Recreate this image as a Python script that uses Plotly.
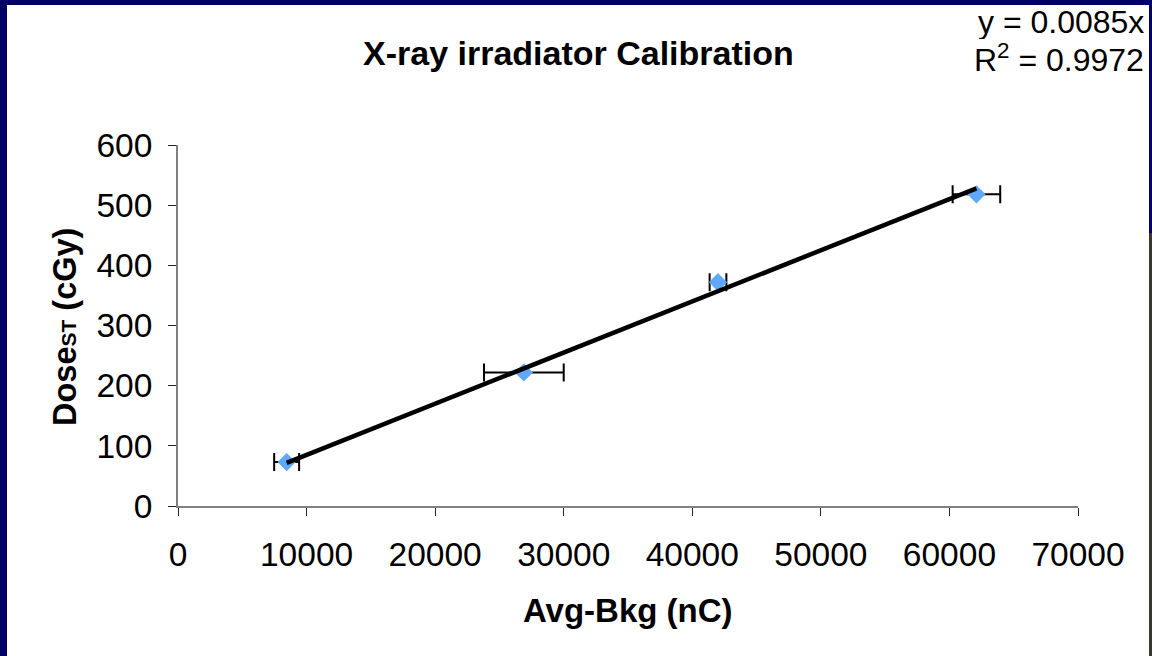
import plotly.graph_objects as go

# ---- data ----
avg_bkg_nC = [8450, 26900, 42000, 62100]
dose_cGy = [73, 222, 372, 518]
x_err_nC = [970, 3100, 650, 1850]
slope = 0.0085
eq_text = "y = 0.0085x"
r2_text = "R<sup>2</sup> = 0.9972"
x_ticks = [0, 10000, 20000, 30000, 40000, 50000, 60000, 70000]
y_ticks = [0, 100, 200, 300, 400, 500, 600]

W, H = 1152, 656
L, R, T, B = 178, 74, 145, 150
PW, PH = W - L - R, H - T - B


def px(xp):
    return (xp - L) / PW


def py(yp):
    return (H - B - yp) / PH


FONT = "Arial, 'Liberation Sans', sans-serif"
NAVY = "#000066"

fit_x = [min(avg_bkg_nC), max(avg_bkg_nC)]
fit_y = [slope * v for v in fit_x]

fig = go.Figure()
fig.add_trace(go.Scatter(
    x=avg_bkg_nC, y=dose_cGy, mode="markers",
    marker=dict(symbol="diamond", size=14, color="#5fa8ff"),
    error_x=dict(type="data", array=x_err_nC, visible=True,
                 color="black", thickness=2, width=9),
    showlegend=False, hoverinfo="x+y",
))
fig.add_trace(go.Scatter(
    x=fit_x, y=fit_y, mode="lines",
    line=dict(color="black", width=4.5),
    showlegend=False, hoverinfo="skip",
))

shapes = [
    dict(type="rect", xref="paper", yref="paper", layer="below",
         x0=px(7), x1=px(1149), y0=py(5), y1=py(H + 20),
         fillcolor="white", line=dict(width=0)),
    dict(type="rect", xref="paper", yref="paper", layer="below",
         x0=px(1149), x1=px(W + 5), y0=py(233), y1=py(H + 20),
         fillcolor="#3a3530", line=dict(width=0)),
]

annotations = [
    dict(text="<b>X-ray irradiator Calibration</b>", x=px(578), y=py(53),
         xref="paper", yref="paper", xanchor="center", yanchor="middle",
         showarrow=False, font=dict(family=FONT, size=34, color="black")),
    dict(text=eq_text, x=px(1146), y=py(22), xref="paper", yref="paper",
         xanchor="right", yanchor="middle", showarrow=False, height=35,
         valign="middle",
         font=dict(family=FONT, size=32, color="black")),
    dict(text=r2_text, x=px(1146), y=py(58), xref="paper", yref="paper",
         xanchor="right", yanchor="middle", showarrow=False, height=36,
         valign="middle",
         font=dict(family=FONT, size=32, color="black")),
    dict(text="<b>Avg-Bkg (nC)</b>", x=px(628), y=py(610), xref="paper",
         yref="paper", xanchor="center", yanchor="middle", showarrow=False,
         font=dict(family=FONT, size=33, color="black")),
    dict(text="<b>Dose<span style='font-size:21px'>ST</span> (cGy)</b>",
         x=px(65), y=py(327), xref="paper", yref="paper",
         xanchor="center", yanchor="middle", textangle=-90, showarrow=False,
         font=dict(family=FONT, size=32.5, color="black")),
]

fig.update_layout(
    width=W, height=H,
    margin=dict(l=L, r=R, t=T, b=B, autoexpand=False),
    paper_bgcolor=NAVY, plot_bgcolor="white",
    shapes=shapes, annotations=annotations,
    font=dict(family=FONT, size=33, color="black"),
)
fig.update_xaxes(
    range=[0, 70000], tickvals=x_ticks, ticktext=[str(v) for v in x_ticks],
    showgrid=False, zeroline=False, showline=True, linecolor="#808080",
    linewidth=2, ticks="outside", ticklen=8, tickwidth=1, tickcolor="#222",
    tickfont=dict(family=FONT, size=33.5, color="black"), ticklabelstandoff=10,
)
fig.update_yaxes(
    range=[0, 600], tickvals=y_ticks, ticktext=[str(v) for v in y_ticks],
    showgrid=False, zeroline=False, showline=True, linecolor="#808080",
    linewidth=2, ticks="outside", ticklen=8, tickwidth=1, tickcolor="#222",
    tickfont=dict(family=FONT, size=33.5, color="black"), ticklabelstandoff=9,
)

fig.write_html(
    "out.html",
    config={"displayModeBar": False},
    post_script="document.body.style.margin='0';"
                "document.body.style.background='#000066';",
)
